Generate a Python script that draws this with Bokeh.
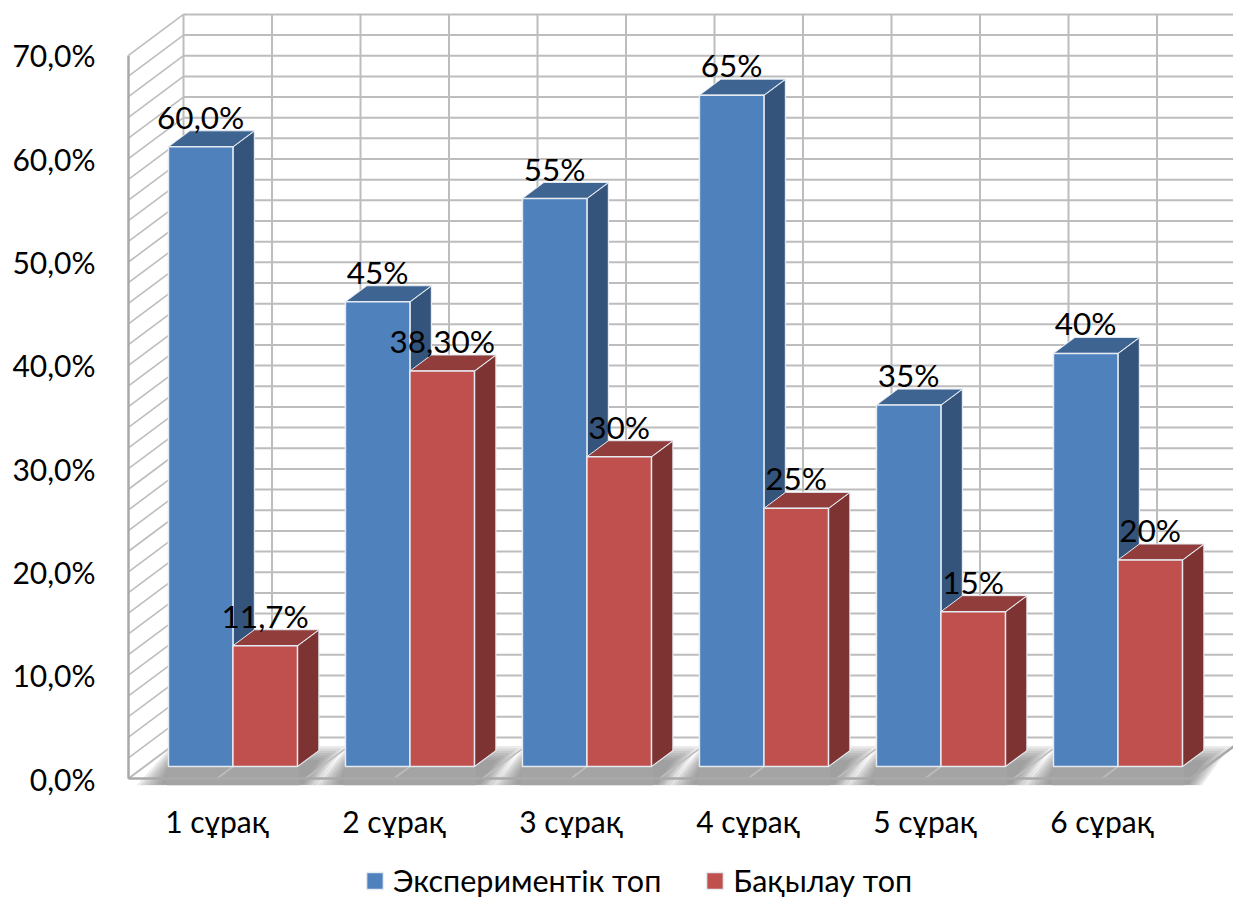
from bokeh.embed import file_html
from bokeh.resources import INLINE
from bokeh.plotting import figure
from bokeh.models import FixedTicker, Legend, LegendItem
from bokeh.core.properties import value

# Survey results per question, in percent
questions = ["1 сұрақ", "2 сұрақ", "3 сұрақ", "4 сұрақ", "5 сұрақ", "6 сұрақ"]
experiment_values = [60.0, 45.0, 55.0, 65.0, 35.0, 40.0]
control_values = [11.7, 38.3, 30.0, 25.0, 15.0, 20.0]
experiment_labels = ["60,0%", "45%", "55%", "65%", "35%", "40%"]
control_labels = ["11,7%", "38,30%", "30%", "25%", "15%", "20%"]
percent_ticks = [0, 10, 20, 30, 40, 50, 60, 70]
percent_labels = ["0,0%", "10,0%", "20,0%", "30,0%", "40,0%", "50,0%", "60,0%", "70,0%"]
series_names = ["Экспериментік топ", "Бақылау топ"]

FONT = "Lato"

# Oblique projection: a point at depth d moves right and up by these data amounts
PX_PER_CAT = 177.0
PX_PER_PCT = 10.33
DEPTH_X = 55.0 / PX_PER_CAT
DEPTH_Y = 41.0 / PX_PER_PCT
BAR_NEAR = 0.29
BAR_FAR = 0.68
BAR_W = 64.5 / PX_PER_CAT
Y_MAX = 70
N_CAT = len(questions)


def proj(x, y, d):
    return x + DEPTH_X * d, y + DEPTH_Y * d


# The frame fills the page so that axes and legend can sit inside it
p = figure(
    width=1233, height=898, output_backend="svg", toolbar_location=None,
    x_range=(-128 / PX_PER_CAT, 1105 / PX_PER_CAT),
    y_range=(-120 / PX_PER_PCT, 778 / PX_PER_PCT),
    min_border_left=0, min_border_right=0, min_border_top=0, min_border_bottom=0,
    outline_line_color=None, background_fill_color="white",
)
p.grid.visible = False

GRID = "#bdbdbd"
AXIS = "#a9a9a9"

# Back wall and side wall grid, one line every 2 percent
levels = list(range(0, Y_MAX + 1, 2))
bx0, _ = proj(0, 0, 1)
bx1, _ = proj(N_CAT, 0, 1)
p.multi_line(
    [[bx0, bx1] for _ in levels],
    [[proj(0, v, 1)[1]] * 2 for v in levels],
    line_color=GRID, line_width=2,
)
p.multi_line(
    [[bx0 + k / 2, bx0 + k / 2] for k in range(0, 2 * N_CAT + 1)],
    [[proj(0, 0, 1)[1], proj(0, Y_MAX, 1)[1]] for k in range(0, 2 * N_CAT + 1)],
    line_color=GRID, line_width=2,
)
p.multi_line(
    [[0, DEPTH_X] for _ in levels],
    [[v, v + DEPTH_Y] for v in levels],
    line_color=GRID, line_width=1.6,
)

# Soft floor shadow around each pair of bars, built from nested translucent shapes
LAYERS = 7
shadow_xs, shadow_ys = [], []
for i in range(N_CAT):
    left = proj(i + 0.5 - BAR_W, 0, BAR_NEAR)[0]
    right = proj(i + 0.5 + BAR_W, 0, BAR_NEAR)[0]
    for j in range(LAYERS):
        s = j / LAYERS
        y_low = -0.65 + 0.05 * s
        y_top = 3.15 - 1.6 * s
        shadow_xs.append([
            left - 0.18 + 0.16 * s, right + 0.11 - 0.09 * s,
            right + 0.27 - 0.17 * s, left + 0.02,
        ])
        shadow_ys.append([y_low, y_low, y_top, y_top])
p.patches(shadow_xs, shadow_ys, fill_color="#6e6e6e", fill_alpha=0.14, line_color=None)
p.quad(
    left=[proj(i + 0.5 - BAR_W, 0, BAR_NEAR)[0] - 0.01 for i in range(N_CAT)],
    right=[proj(i + 0.5 + BAR_W, 0, BAR_NEAR)[0] + 0.01 for i in range(N_CAT)],
    bottom=-0.65, top=1.0, fill_color="#a4a4a4", line_color=None,
)

# Floor: division lines running back from the front edge, and the outer edge
p.multi_line(
    [[k / 2, k / 2 + DEPTH_X] for k in range(0, 2 * N_CAT + 1)],
    [[0, DEPTH_Y] for k in range(0, 2 * N_CAT + 1)],
    line_color=GRID, line_width=1.6,
)
p.line([0, 0], [0, Y_MAX], line_color=AXIS, line_width=2.5)
p.line([0, N_CAT, N_CAT + DEPTH_X], [0, 0, DEPTH_Y], line_color=AXIS, line_width=2.5)

# Bars: side and top faces first, front face last, blue series under the red one
series = [
    (experiment_values, -1, "#4f81bd", "#34547c", "#3e6592"),
    (control_values, 0, "#c0504d", "#7d3331", "#903d3b"),
]
EDGE = "#e6ebf2"
fronts = []
for values, shift, front, side, top in series:
    near_l = [proj(i + 0.5 + shift * BAR_W, 0, BAR_NEAR)[0] for i in range(N_CAT)]
    near_r = [x + BAR_W for x in near_l]
    dx = DEPTH_X * (BAR_FAR - BAR_NEAR)
    dy = DEPTH_Y * (BAR_FAR - BAR_NEAR)
    base = DEPTH_Y * BAR_NEAR
    tops = [base + v for v in values]
    p.patches(
        [[r, r + dx, r + dx, r] for r in near_r],
        [[base, base + dy, t + dy, t] for t in tops],
        fill_color=side, line_color=EDGE, line_width=1.2,
    )
    p.patches(
        [[l, l + dx, r + dx, r] for l, r in zip(near_l, near_r)],
        [[t, t + dy, t + dy, t] for t in tops],
        fill_color=top, line_color=EDGE, line_width=1.0,
    )
    fronts.append(p.quad(
        left=near_l, right=near_r, bottom=base, top=tops,
        fill_color=front, line_color=EDGE, line_width=1.5,
    ))

# Value labels sit just above the back edge of each bar's top face
for values, labels, shift in (
    (experiment_values, experiment_labels, -0.5),
    (control_values, control_labels, 0.5),
):
    p.text(
        x=[proj(i + 0.5 + shift * BAR_W, 0, BAR_NEAR)[0] for i in range(N_CAT)],
        y=[v + DEPTH_Y * BAR_FAR + 1.35 for v in values],
        text=labels, text_font=value(FONT), text_font_size="31.5px",
        text_color="black", text_align="center", text_baseline="alphabetic",
    )

# Axes carry only their labels and are pinned at the front corner of the floor
y_axis = p.yaxis[0]
y_axis.ticker = FixedTicker(ticks=percent_ticks)
y_axis.major_label_overrides = dict(zip(percent_ticks, percent_labels))
y_axis.fixed_location = 0
x_axis = p.xaxis[0]
cat_ticks = [i + 0.5 for i in range(N_CAT)]
x_axis.ticker = FixedTicker(ticks=cat_ticks)
x_axis.major_label_overrides = dict(zip(cat_ticks, questions))
x_axis.fixed_location = 0
for ax, standoff in ((y_axis, 27), (x_axis, 18)):
    ax.axis_line_color = None
    ax.major_tick_line_color = None
    ax.minor_tick_line_color = None
    ax.major_label_text_font = FONT
    ax.major_label_text_font_size = "30px"
    ax.major_label_text_color = "black"
    ax.major_label_standoff = standoff

# Legend in the strip under the question labels
legend = Legend(
    items=[LegendItem(label=n, renderers=[r]) for n, r in zip(series_names, fronts)],
    orientation="horizontal", location=(364, 0),
    glyph_width=21, glyph_height=21, label_standoff=8, spacing=43,
    label_text_font=FONT, label_text_font_size="30.5px", label_text_color="black",
    border_line_color=None, background_fill_alpha=0, margin=0, padding=0,
)
p.add_layout(legend, "center")

open("out.html", "w").write(file_html(p, INLINE))
